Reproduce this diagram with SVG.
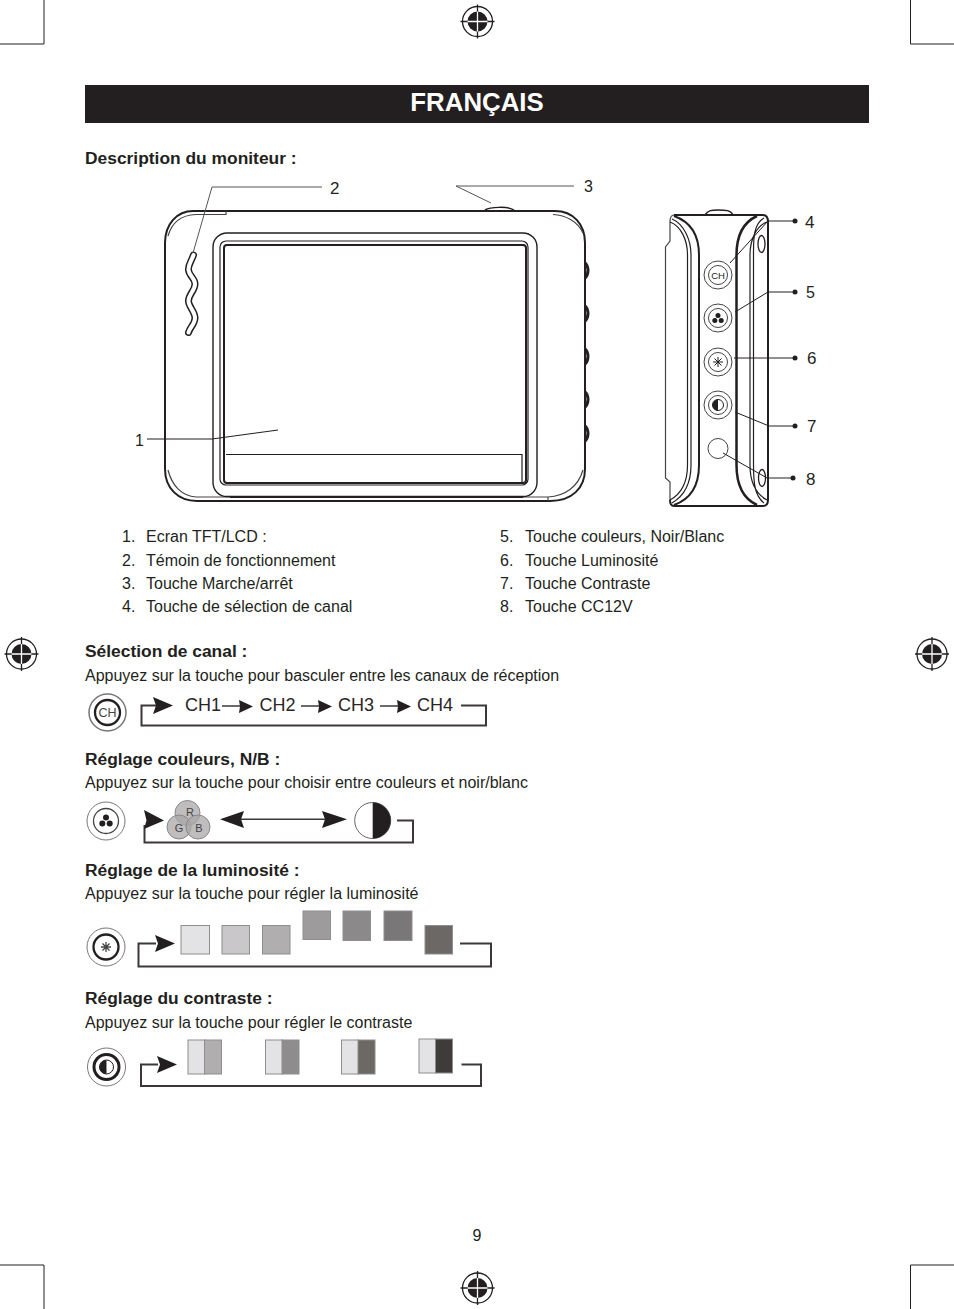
<svg xmlns="http://www.w3.org/2000/svg" xmlns:xlink="http://www.w3.org/1999/xlink" width="954" height="1309" viewBox="0 0 954 1309">
<style>
text{font-family:"Liberation Sans",Arial,sans-serif;fill:#231f20}
.b{font-size:16px}
.h{font-size:17.4px;font-weight:bold}
.n{font-size:16px}
.ch{font-size:18px;fill:#2a2627}
.l{fill:none;stroke:#231f20;stroke-width:1.2}
.t{fill:none;stroke:#231f20;stroke-width:2}
.q{fill:none;stroke:#777;stroke-width:1}
.w{fill:none;stroke:#3c3839;stroke-width:2}
.f{fill:#231f20}
.sw{stroke:#8f8d8e;stroke-width:1}
</style>
<defs>
<g id="reg"><circle r="15" fill="none" stroke="#231f20" stroke-width="1.3"/><circle r="10" class="f"/><path d="M-17 0H17M0-17V17" stroke="#231f20" stroke-width="1.3"/><path d="M-10 0H10M0-10V10" stroke="#fff" stroke-width="1.3"/></g>
<path id="ah" d="M0-8.500L20 0L0 8.500L3 0Z" fill="#231f20"/>
<path id="as" d="M-13-6.500L1 0L-13 6.500L-12 0Z" fill="#231f20"/>
</defs>
<rect width="954" height="1309" fill="#fff"/>
<g id="crop-marks" fill="none" stroke="#231f20" stroke-width="1">
<path d="M44 0V44H0M910.500 0V44H954M44 1309V1265H0M910.500 1309V1265H954"/>
</g>
<g id="registration-marks">
<use xlink:href="#reg" x="477.500" y="21.500"/><use xlink:href="#reg" x="477.500" y="1288"/><use xlink:href="#reg" x="21.500" y="654"/><use xlink:href="#reg" x="932" y="654"/>
</g>
<g id="title"><rect x="85" y="85" width="784" height="38" fill="#231f20"/><text x="477" y="111" text-anchor="middle" style="font-size:25.800px;font-weight:bold;fill:#fff">FRANÇAIS</text></g>
<text class="h" x="85" y="163.500">Description du moniteur :</text>

<g id="monitor-front">
<path class="t" d="M193 211H555C573 211 585 224 585 243V469C585 488 572 501 550 501H197C178 501 165 488 165 469V243C165 224 177 211 193 211Z"/>
<path class="l" d="M168 236C172 222 182 215 196 214.500H226V211M553 214.500C566 215 578 222 583 233M168 470C172 486 182 496 196 497H230M523 497H548C565 496 578 487 583 470M548 497V501" style="stroke:#444"/>
<path class="t" d="M230 497H523"/>
<path d="M485 210C490 207 508 206 514 210" fill="none" stroke="#231f20" stroke-width="1.500"/>
<rect class="l" x="213" y="233" width="324" height="263.500" rx="14" style="stroke-width:1.400"/>
<rect class="l" x="220" y="241" width="308" height="244" rx="6"/>
<rect class="t" x="224" y="245" width="302" height="238" rx="3"/>
<path class="l" d="M226 454.500H522V483"/>
<path d="M193.500 255C191 262 188 265 188.500 270C189 276 195 278 195 284C195 291 188.500 294 188.500 301C188.500 307 195 311 195 318C195 324 190 327 188.500 332.500" fill="none" stroke="#231f20" stroke-width="7" stroke-linecap="round"/>
<path d="M193.500 255C191 262 188 265 188.500 270C189 276 195 278 195 284C195 291 188.500 294 188.500 301C188.500 307 195 311 195 318C195 324 190 327 188.500 332.500" fill="none" stroke="#fff" stroke-width="4" stroke-linecap="round"/>
<g fill="#231f20">
<path d="M585 261C591 265 591 276 585 280L586.500 270ZM585 304C591 308 591 319 585 323L586.500 313ZM585 347C591 351 591 362 585 366L586.500 356ZM585 390C591 394 591 405 585 409L586.500 399ZM585 424C591 428 591 439 585 443L586.500 433Z"/>
</g>
</g>

<g id="monitor-side">
<path d="M674 215H763C767 215 768 218 768 222V500C768 504 766 506 763 506H674C671 506 670 503 670 500" fill="none" stroke="#231f20" stroke-width="2"/>
<path d="M670 500V482L665.500 478V247L670 241V222C670 218 671 215 674 215" fill="none" stroke="#444" stroke-width="1.200"/>
<path d="M705 215C708 210 712 210 718 210C725 210 731 210 733 215" fill="none" stroke="#231f20" stroke-width="1.500"/>
<path class="t" d="M674 216C691 222 699 235 699 255V465C699 486 691 499 674 505"/>
<path class="l" d="M670 222C681 226 687.500 240 687.500 255V465C687.500 484 681 494 670 500M672 219C684 224 691 240 691 255V465C691 484 684 496 672 503"/>
<path class="t" d="M757 216C744 222 736.500 235 736.500 255V465C736.500 486 744 499 757 505" style="stroke-width:2.500"/>
<path class="l" d="M767 222C756 226 750 240 750 255V465C750 484 756 494 767 500M764 218C753 224 753.500 240 753.500 255V465C753.500 484 755 496 764 503"/>
<ellipse cx="761.500" cy="244" rx="3.500" ry="8.500" fill="#fff" stroke="#231f20" stroke-width="1.300"/><ellipse cx="762" cy="478" rx="3.500" ry="8.500" fill="#fff" stroke="#231f20" stroke-width="1.300"/>
<g id="side-buttons">
<g fill="#fff" stroke="#444" stroke-width="1">
<circle cx="718" cy="275" r="14"/><circle cx="718" cy="275" r="9.500"/>
<circle cx="718" cy="318" r="14"/><circle cx="718" cy="318" r="9.500"/>
<circle cx="718" cy="362" r="14"/><circle cx="718" cy="362" r="9.500"/>
<circle cx="718" cy="405" r="14"/><circle cx="718" cy="405" r="9.500"/>
<circle cx="718" cy="448.500" r="10"/>
</g>
<text x="718" y="278.500" text-anchor="middle" style="font-size:9.500px">CH</text>
<g class="f"><circle cx="718" cy="315.500" r="2.500"/><circle cx="714.800" cy="320.500" r="2.500"/><circle cx="721.200" cy="320.500" r="2.500"/></g>
<path d="M718 357V367M713 362H723M714.500 358.500L721.500 365.500M721.500 358.500L714.500 365.500" stroke="#231f20" stroke-width="1"/>
<circle cx="718" cy="405" r="5.500" fill="#fff" stroke="#231f20"/><path class="f" d="M718 399.500A5.500 5.500 0 0 0 718 410.500Z"/>
</g>
</g>

<g id="connectors" fill="none" stroke="#231f20" stroke-width="1">
<path stroke="#555" d="M322 187H212L193 253"/>
<path stroke="#555" d="M574 186H456L491 203"/>
<path d="M147 439H212L278 430"/>
<path d="M794 221H768L730 263"/>
<path d="M794 292H768L735 312"/>
<path d="M794 358H734"/>
<path d="M794 426H769L735 412"/>
<path d="M794 478H767L723 453"/>
<g fill="#231f20" stroke="none"><circle cx="795" cy="221" r="2.500"/><circle cx="795" cy="292" r="2.500"/><circle cx="795" cy="358" r="2.500"/><circle cx="795" cy="426" r="2.500"/><circle cx="793" cy="478" r="2.500"/></g>
</g>
<g id="callouts" style="font-size:16px">
<text x="135" y="445.500" style="font-size:16px">1</text>
<text x="330" y="193.500" style="font-size:17px">2</text>
<text x="584" y="192" style="font-size:16px">3</text>
<text x="805" y="227.500" style="font-size:17px">4</text>
<text x="806" y="297.500" style="font-size:16px">5</text>
<text x="807" y="363.500" style="font-size:17px">6</text>
<text x="807" y="432" style="font-size:17px">7</text>
<text x="806" y="484.500" style="font-size:17px">8</text>
</g>

<g id="legend">
<text class="n" x="122" y="542">1.</text><text class="n" x="146" y="542">Ecran TFT/LCD :</text>
<text class="n" x="122" y="566">2.</text><text class="n" x="146" y="566">Témoin de fonctionnement</text>
<text class="n" x="122" y="589">3.</text><text class="n" x="146" y="589">Touche Marche/arrêt</text>
<text class="n" x="122" y="612">4.</text><text class="n" x="146" y="612">Touche de sélection de canal</text>
<text class="n" x="500" y="542">5.</text><text class="n" x="525" y="542">Touche couleurs, Noir/Blanc</text>
<text class="n" x="500" y="566">6.</text><text class="n" x="525" y="566">Touche Luminosité</text>
<text class="n" x="500" y="589">7.</text><text class="n" x="525" y="589">Touche Contraste</text>
<text class="n" x="500" y="612">8.</text><text class="n" x="525" y="612">Touche CC12V</text>
</g>

<g id="section-channel">
<text class="h" x="85" y="657">Sélection de canal :</text>
<text class="b" x="85" y="681">Appuyez sur la touche pour basculer entre les canaux de réception</text>
<circle cx="107.500" cy="712.500" r="18.500" class="q" style="stroke-width:1.500"/><circle cx="107.500" cy="712.500" r="12.500" fill="none" stroke="#231f20" stroke-width="2.300"/>
<text x="107.500" y="717" text-anchor="middle" style="font-size:12.500px;fill:#444">CH</text>
<path class="w" d="M156 705.500H141.500V725.500H486V705.500H461"/>
<use xlink:href="#ah" x="153" y="705.500"/>
<text class="ch" x="185" y="711">CH1</text><text class="ch" x="259.500" y="711">CH2</text><text class="ch" x="338" y="711">CH3</text><text class="ch" x="417" y="711">CH4</text>
<path d="M222 706H240M301 706H320M380 706H398" fill="none" stroke="#3c3839" stroke-width="1.500"/>
<use xlink:href="#as" x="252" y="706.500"/><use xlink:href="#as" x="331" y="706.500"/><use xlink:href="#as" x="410" y="706.500"/>
</g>

<g id="section-color">
<text class="h" x="85" y="765">Réglage couleurs, N/B :</text>
<text class="b" x="85" y="788">Appuyez sur la touche pour choisir entre couleurs et noir/blanc</text>
<circle cx="106" cy="821" r="19" class="q"/><circle cx="106" cy="821" r="12.500" fill="none" stroke="#444" stroke-width="1.300"/>
<g class="f"><circle cx="106" cy="817.500" r="3"/><circle cx="102.300" cy="823.500" r="3"/><circle cx="109.700" cy="823.500" r="3"/></g>
<path class="w" d="M144.500 825V842.500H413V820.500H397"/>
<path d="M144 810L164 820.500L144 829L146.500 820.500Z" class="f"/>
<g fill="#a9a7a8" fill-opacity=".75" stroke="#888"><circle cx="187.500" cy="813" r="12.500"/><circle cx="179" cy="827" r="12"/><circle cx="198" cy="827" r="12"/></g>
<text x="190" y="815.500" text-anchor="middle" style="font-size:11px;fill:#444">R</text><text x="179" y="832" text-anchor="middle" style="font-size:11px;fill:#444">G</text><text x="199" y="832" text-anchor="middle" style="font-size:11px;fill:#444">B</text>
<path d="M235 819.300H332" fill="none" stroke="#3c3839" stroke-width="1.500"/>
<path class="f" d="M220 819.300L244 811L241 819.300L244 828ZM347 819.300L322 811L325 819.300L322 828Z"/>
<circle cx="372.700" cy="820.500" r="18" fill="#fff" stroke="#666"/><path class="f" d="M372.700 802.500A18 18 0 0 1 372.700 838.500Z"/>
</g>

<g id="section-brightness">
<text class="h" x="85" y="876">Réglage de la luminosité :</text>
<text class="b" x="85" y="899">Appuyez sur la touche pour régler la luminosité</text>
<circle cx="106" cy="947" r="19" class="q"/><circle cx="106" cy="947" r="12.500" fill="none" stroke="#231f20" stroke-width="2.300"/>
<path d="M106 942V952M101 947H111M102.500 943.500L109.500 950.500M109.500 943.500L102.500 950.500" stroke="#444" stroke-width="1.300"/>
<path class="w" d="M156 943.500H138.500V966.500H491V943.500H460"/>
<use xlink:href="#ah" x="155" y="943.500"/>
<rect class="sw" x="181" y="925.500" width="28.500" height="28.500" fill="#e3e2e4"/>
<rect class="sw" x="222" y="925.500" width="27.500" height="28.500" fill="#c9c7c9"/>
<rect class="sw" x="262.500" y="925.500" width="27.500" height="28.500" fill="#b1aeb0"/>
<rect class="sw" x="303" y="911" width="27.500" height="28.500" fill="#9e9b9c"/>
<rect class="sw" x="343" y="911" width="27.500" height="29.500" fill="#8c898a"/>
<rect class="sw" x="384" y="911" width="28" height="29.500" fill="#7a7778"/>
<rect class="sw" x="425" y="925.500" width="27.500" height="28.500" fill="#6b6865"/>
</g>

<g id="section-contrast">
<text class="h" x="85" y="1004">Réglage du contraste :</text>
<text class="b" x="85" y="1028">Appuyez sur la touche pour régler le contraste</text>
<circle cx="106.500" cy="1067" r="19" class="q"/><circle cx="106.500" cy="1067" r="12.500" fill="none" stroke="#231f20" stroke-width="3"/>
<circle cx="106.500" cy="1067" r="7" fill="#fff" stroke="#231f20"/><path class="f" d="M106.500 1060A7 7 0 0 0 106.500 1074Z"/>
<path class="w" d="M158 1064.500H141V1086H481V1064.500H461.500"/>
<use xlink:href="#ah" x="157" y="1064.500"/>
<g class="sw">
<rect x="188" y="1040" width="17" height="34" fill="#e3e2e4"/><rect x="204.500" y="1040" width="17" height="34" fill="#b1aeb0"/>
<rect x="265.500" y="1040" width="17" height="34" fill="#e3e2e4"/><rect x="282" y="1040" width="17" height="34" fill="#8f8c8d"/>
<rect x="341.500" y="1040" width="17" height="34" fill="#e3e2e4"/><rect x="358" y="1040" width="17" height="34" fill="#6b6865"/>
<rect x="419" y="1039" width="17" height="34" fill="#e3e2e4"/><rect x="435.500" y="1039" width="17" height="34" fill="#3f3b3a"/>
</g>
</g>
<text class="n" x="477" y="1241" text-anchor="middle">9</text>
</svg>
